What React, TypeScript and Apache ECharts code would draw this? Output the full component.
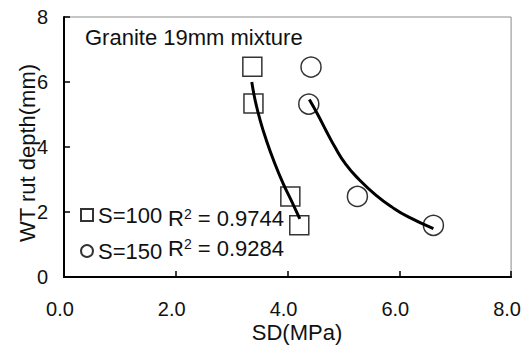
import React, { useEffect, useRef } from 'react';
import * as echarts from 'echarts';

// Scatter data (SD in MPa, rut depth in mm)
const s100X = [3.37, 3.39, 4.05, 4.21];
const s100Y = [6.47, 5.34, 2.48, 1.59];
const s150X = [4.42, 4.38, 5.25, 6.61];
const s150Y = [6.46, 5.32, 2.48, 1.59];

// Trend lines
const trend100X = [3.36, 3.42, 3.51, 3.62, 3.77, 3.92, 4.07, 4.22];
const trend100Y = [6.0, 5.44, 4.82, 4.21, 3.5, 2.88, 2.34, 1.79];
const trend150X = [4.39, 4.54, 4.69, 4.84, 5.04, 5.28, 5.58, 5.87, 6.17, 6.61];
const trend150Y = [5.46, 5.0, 4.5, 4.02, 3.47, 3.0, 2.52, 2.15, 1.84, 1.49];

const seriesNames = ['S=100', 'S=150'];
const r2Labels = ['0.9744', '0.9284'];
const chartTitle = 'Granite 19mm mixture';
const xTitle = 'SD(MPa)';
const yTitle = 'WT rut depth(mm)';

const FONT = '"Liberation Sans", Arial, sans-serif';

const zip = (xs: number[], ys: number[]) => xs.map((x, i) => [x, ys[i]]);

export default function App() {
  const ref = useRef<HTMLDivElement>(null);
  useEffect(() => {
    document.body.style.margin = '0';
    if (!ref.current) return;
    const chart = echarts.init(ref.current, null, { renderer: 'svg' });
    chart.setOption({
      animation: false,
      textStyle: { fontFamily: FONT },
      grid: {
        left: 64,
        right: 9,
        top: 17,
        bottom: 69,
        show: true,
        borderColor: '#8c8c8c',
        borderWidth: 1,
        backgroundColor: '#fff',
      },
      xAxis: {
        type: 'value',
        min: 0,
        max: 8,
        interval: 2,
        axisLine: { show: true, onZero: false, lineStyle: { color: '#000', width: 2 } },
        axisTick: { show: true, inside: true, length: 6, lineStyle: { color: '#000', width: 1.5 } },
        splitLine: { show: false },
        axisLabel: {
          color: '#111',
          fontSize: 20,
          fontFamily: FONT,
          margin: 22,
          padding: [0, 8, 0, 0],
          formatter: (v: number) => v.toFixed(1),
        },
      },
      yAxis: {
        type: 'value',
        min: 0,
        max: 8,
        interval: 2,
        axisLine: { show: true, onZero: false, lineStyle: { color: '#000', width: 2 } },
        axisTick: { show: true, inside: true, length: 6, lineStyle: { color: '#000', width: 1.5 } },
        splitLine: { show: false },
        axisLabel: { color: '#111', fontSize: 20, fontFamily: FONT, margin: 16 },
      },
      legend: {
        orient: 'vertical',
        left: 80,
        top: 204,
        itemWidth: 12,
        itemHeight: 12,
        itemGap: 14,
        padding: 0,
        data: seriesNames,
        textStyle: { color: '#111', fontSize: 22, fontFamily: FONT, lineHeight: 22 },
      },
      graphic: [
        {
          type: 'text',
          left: 85,
          top: 26,
          style: { text: chartTitle, fill: '#111', font: `22px ${FONT}` },
        },
        {
          type: 'text',
          x: 297,
          y: 332,
          style: { text: xTitle, fill: '#111', font: `22px ${FONT}`, align: 'center', verticalAlign: 'middle' },
        },
        {
          type: 'text',
          x: 27,
          y: 153,
          rotation: Math.PI / 2,
          style: { text: yTitle, fill: '#111', font: `22px ${FONT}`, align: 'center', verticalAlign: 'middle' },
        },
        {
          type: 'text',
          x: 168,
          y: 218,
          style: {
            text: `{r|R}{s|2}{r| = ${r2Labels[0]}}`,
            verticalAlign: 'middle',
            rich: {
              r: { fontSize: 22, fontFamily: FONT, fill: '#111', color: '#111', verticalAlign: 'bottom' },
              s: { fontSize: 14, fontFamily: FONT, fill: '#111', color: '#111', verticalAlign: 'top' },
            },
          },
        },
        {
          type: 'text',
          x: 168,
          y: 248,
          style: {
            text: `{r|R}{s|2}{r| = ${r2Labels[1]}}`,
            verticalAlign: 'middle',
            rich: {
              r: { fontSize: 22, fontFamily: FONT, fill: '#111', color: '#111', verticalAlign: 'bottom' },
              s: { fontSize: 14, fontFamily: FONT, fill: '#111', color: '#111', verticalAlign: 'top' },
            },
          },
        },
      ],
      series: [
        {
          name: seriesNames[0],
          type: 'scatter',
          symbol: 'rect',
          symbolSize: 19,
          z: 2,
          itemStyle: { color: '#fff', borderColor: '#000', borderWidth: 1.5 },
          data: zip(s100X, s100Y),
        },
        {
          name: seriesNames[1],
          type: 'scatter',
          symbol: 'circle',
          symbolSize: 20,
          z: 2,
          itemStyle: { color: '#fff', borderColor: '#000', borderWidth: 1.5 },
          data: zip(s150X, s150Y),
        },
        {
          name: 'trend100',
          type: 'line',
          smooth: true,
          showSymbol: false,
          z: 5,
          lineStyle: { color: '#000', width: 3 },
          data: zip(trend100X, trend100Y),
        },
        {
          name: 'trend150',
          type: 'line',
          smooth: true,
          showSymbol: false,
          z: 5,
          lineStyle: { color: '#000', width: 3 },
          data: zip(trend150X, trend150Y),
        },
      ],
    });
    return () => chart.dispose();
  }, []);
  return <div ref={ref} style={{ width: 524, height: 346 }} />;
}
